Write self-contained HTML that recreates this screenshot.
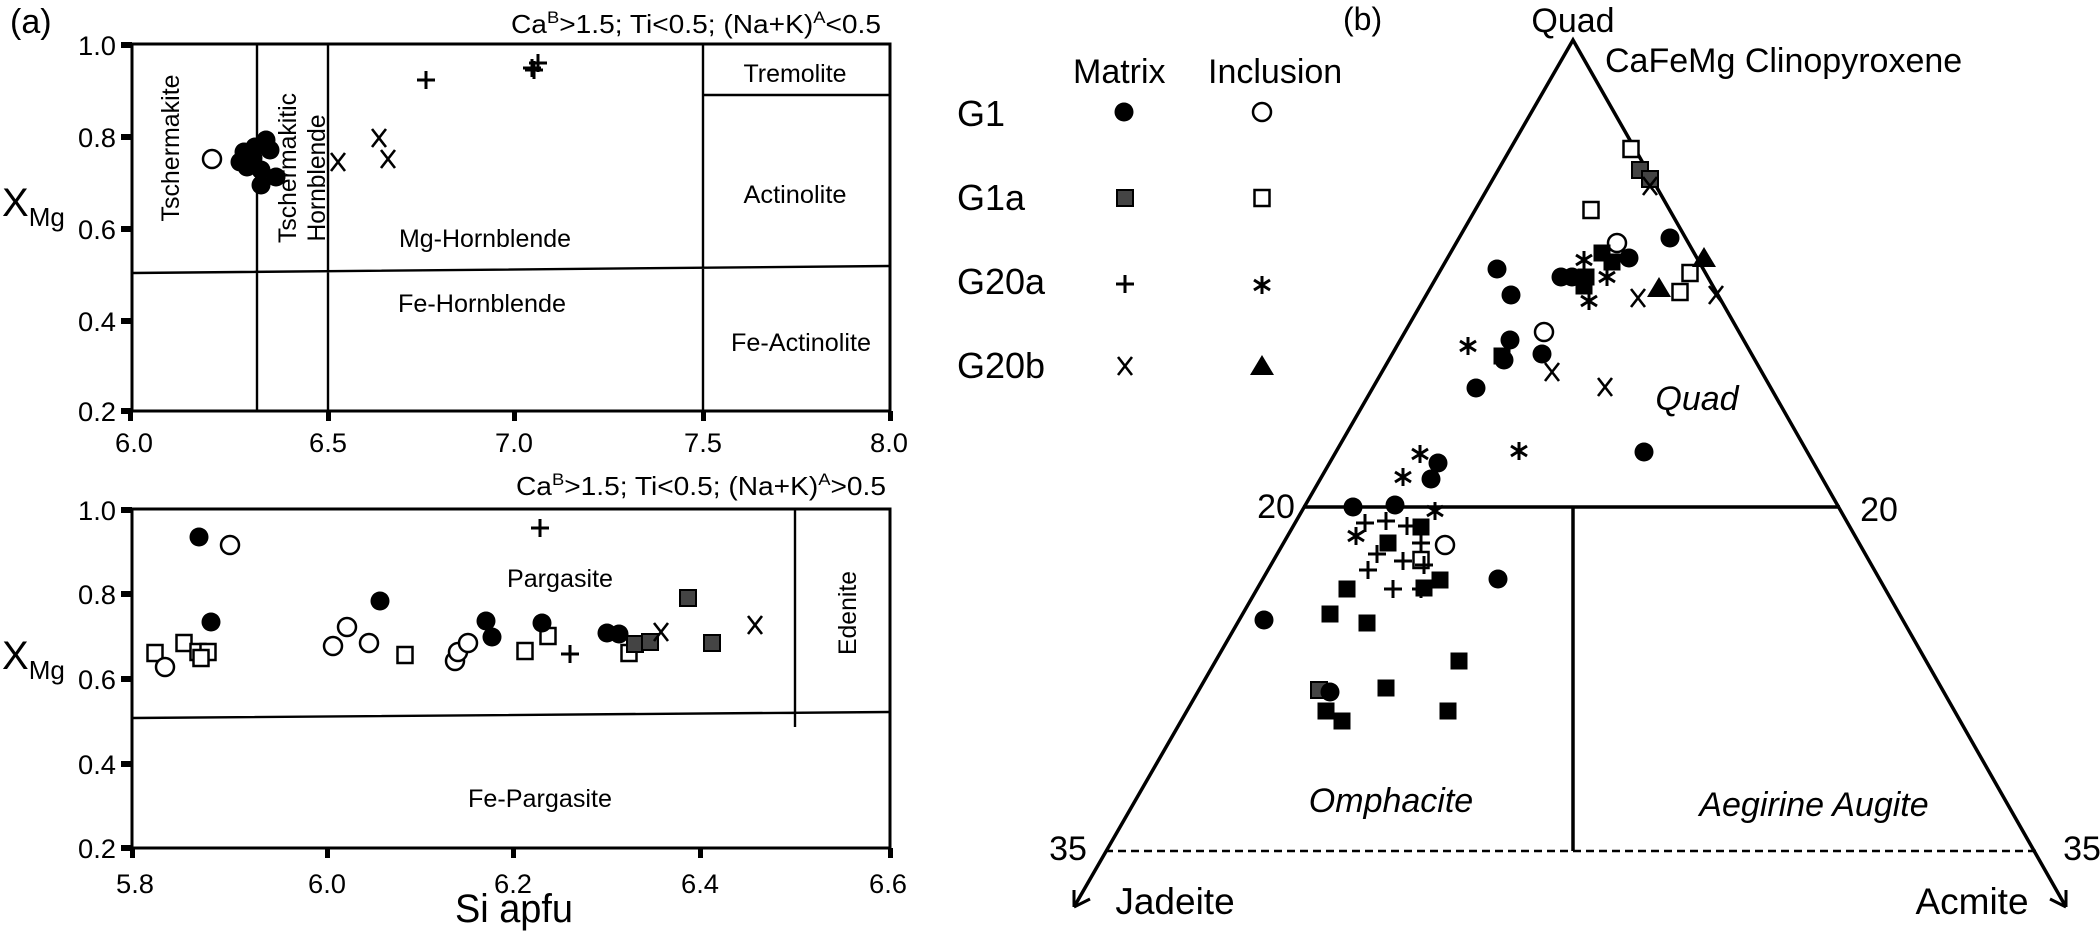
<!DOCTYPE html>
<html><head><meta charset="utf-8"><style>
html,body{margin:0;padding:0;background:#fff;}
svg{display:block;}
text{font-family:"Liberation Sans",Arial,sans-serif;fill:#000;}
</style></head><body>
<svg width="2100" height="934" viewBox="0 0 2100 934" xmlns="http://www.w3.org/2000/svg">
<defs>
<g id="fc"><circle r="9.5" fill="#000"/></g>
<g id="oc"><circle r="9" fill="#fff" stroke="#000" stroke-width="2.5"/></g>
<g id="fs"><rect x="-8.5" y="-8.5" width="17" height="17" fill="#000"/></g>
<g id="gs"><rect x="-8" y="-8" width="16" height="16" fill="#444" stroke="#000" stroke-width="2"/></g>
<g id="os"><rect x="-7.5" y="-8" width="15" height="16" fill="#fff" stroke="#000" stroke-width="2.5"/></g>
<g id="pl"><path d="M-9 0H9M0-9V9" stroke="#000" stroke-width="3" fill="none"/></g>
<g id="xx"><path d="M-7-9L7 9M7-9L-7 9" stroke="#000" stroke-width="2.6" fill="none"/></g>
<g id="as"><path d="M0-9V9M-8-5L8 5M8-5L-8 5" stroke="#000" stroke-width="3" fill="none"/></g>
<g id="tr"><path d="M0-11L12 9H-12Z" fill="#000"/></g>
</defs>

<!-- ========== (a) top plot ========== -->
<text x="10" y="33" font-size="34">(a)</text>
<text x="881" y="33" font-size="26" text-anchor="end" textLength="370" lengthAdjust="spacingAndGlyphs">Ca<tspan dy="-10" font-size="17">B</tspan><tspan dy="10">&gt;1.5; Ti&lt;0.5; (Na+K)</tspan><tspan dy="-10" font-size="17">A</tspan><tspan dy="10">&lt;0.5</tspan></text>
<rect x="132" y="44" width="758" height="367" fill="none" stroke="#000" stroke-width="3"/>
<g stroke="#000" stroke-width="2.4" fill="none">
<path d="M257 44V411M328 44V411M703 44V411M703 95H890M132 273L890 266"/>
</g>
<g fill="#000">
<rect x="121" y="42" width="11" height="6"/><rect x="121" y="134" width="11" height="6"/><rect x="121" y="226" width="11" height="6"/><rect x="121" y="318" width="11" height="6"/><rect x="121" y="408" width="11" height="6"/>
<rect x="128" y="411" width="5" height="10"/><rect x="326" y="411" width="5" height="10"/><rect x="512" y="411" width="5" height="10"/><rect x="701" y="411" width="5" height="10"/><rect x="888" y="411" width="5" height="10"/>
</g>
<g font-size="27" text-anchor="end">
<text x="116" y="55" textLength="38" lengthAdjust="spacingAndGlyphs">1.0</text>
<text x="116" y="147" textLength="38" lengthAdjust="spacingAndGlyphs">0.8</text>
<text x="116" y="239" textLength="38" lengthAdjust="spacingAndGlyphs">0.6</text>
<text x="116" y="331" textLength="38" lengthAdjust="spacingAndGlyphs">0.4</text>
<text x="116" y="421" textLength="38" lengthAdjust="spacingAndGlyphs">0.2</text>
</g>
<g font-size="27" text-anchor="middle">
<text x="134" y="452" textLength="38" lengthAdjust="spacingAndGlyphs">6.0</text><text x="328" y="452" textLength="38" lengthAdjust="spacingAndGlyphs">6.5</text><text x="514" y="452" textLength="38" lengthAdjust="spacingAndGlyphs">7.0</text><text x="703" y="452" textLength="38" lengthAdjust="spacingAndGlyphs">7.5</text><text x="889" y="452" textLength="38" lengthAdjust="spacingAndGlyphs">8.0</text>
</g>
<text x="2" y="216" font-size="40">X<tspan font-size="26" dy="10">Mg</tspan></text>
<g font-size="25" text-anchor="middle">
<text x="795" y="82" textLength="103" lengthAdjust="spacingAndGlyphs">Tremolite</text>
<text x="795" y="203" textLength="103" lengthAdjust="spacingAndGlyphs">Actinolite</text>
<text x="485" y="247" textLength="172" lengthAdjust="spacingAndGlyphs">Mg-Hornblende</text>
<text x="482" y="312" textLength="168" lengthAdjust="spacingAndGlyphs">Fe-Hornblende</text>
<text x="801" y="351" textLength="140" lengthAdjust="spacingAndGlyphs">Fe-Actinolite</text>
<text transform="translate(179,148) rotate(-90)" textLength="147" lengthAdjust="spacingAndGlyphs">Tschermakite</text>
<text transform="translate(296,168) rotate(-90)" textLength="150" lengthAdjust="spacingAndGlyphs">Tschermakitic</text>
<text transform="translate(325,178) rotate(-90)" textLength="127" lengthAdjust="spacingAndGlyphs">Hornblende</text>
</g>
<use href="#oc" x="212" y="159"/>
<use href="#fc" x="244" y="152"/><use href="#fc" x="255" y="147"/><use href="#fc" x="266" y="140"/><use href="#fc" x="270" y="150"/><use href="#fc" x="247" y="167"/><use href="#fc" x="261" y="170"/><use href="#fc" x="276" y="177"/><use href="#fc" x="261" y="185"/><use href="#fc" x="253" y="158"/><use href="#fc" x="240" y="162"/>
<use href="#xx" x="338" y="162"/><use href="#xx" x="379" y="138"/><use href="#xx" x="388" y="159"/>
<use href="#pl" x="426" y="80"/><use href="#pl" x="532" y="68"/><use href="#pl" x="538" y="63"/><use href="#pl" x="534" y="70"/>

<!-- ========== (a) bottom plot ========== -->
<text x="886" y="495" font-size="26" text-anchor="end" textLength="370" lengthAdjust="spacingAndGlyphs">Ca<tspan dy="-10" font-size="17">B</tspan><tspan dy="10">&gt;1.5; Ti&lt;0.5; (Na+K)</tspan><tspan dy="-10" font-size="17">A</tspan><tspan dy="10">&gt;0.5</tspan></text>
<rect x="132" y="509" width="758" height="339" fill="none" stroke="#000" stroke-width="3"/>
<g stroke="#000" stroke-width="2.4" fill="none">
<path d="M795 509V727M132 718L890 712"/>
</g>
<g fill="#000">
<rect x="121" y="507" width="11" height="6"/><rect x="121" y="591" width="11" height="6"/><rect x="121" y="676" width="11" height="6"/><rect x="121" y="761" width="11" height="6"/><rect x="121" y="845" width="11" height="6"/>
<rect x="130" y="848" width="5" height="10"/><rect x="325" y="848" width="5" height="10"/><rect x="511" y="848" width="5" height="10"/><rect x="698" y="848" width="5" height="10"/><rect x="888" y="848" width="5" height="10"/>
</g>
<g font-size="27" text-anchor="end">
<text x="116" y="520" textLength="38" lengthAdjust="spacingAndGlyphs">1.0</text>
<text x="116" y="604" textLength="38" lengthAdjust="spacingAndGlyphs">0.8</text>
<text x="116" y="689" textLength="38" lengthAdjust="spacingAndGlyphs">0.6</text>
<text x="116" y="774" textLength="38" lengthAdjust="spacingAndGlyphs">0.4</text>
<text x="116" y="858" textLength="38" lengthAdjust="spacingAndGlyphs">0.2</text>
</g>
<g font-size="27" text-anchor="middle">
<text x="135" y="893" textLength="38" lengthAdjust="spacingAndGlyphs">5.8</text><text x="327" y="893" textLength="38" lengthAdjust="spacingAndGlyphs">6.0</text><text x="513" y="893" textLength="38" lengthAdjust="spacingAndGlyphs">6.2</text><text x="700" y="893" textLength="38" lengthAdjust="spacingAndGlyphs">6.4</text><text x="888" y="893" textLength="38" lengthAdjust="spacingAndGlyphs">6.6</text>
</g>
<text x="514" y="922" font-size="40" text-anchor="middle" textLength="118" lengthAdjust="spacingAndGlyphs">Si apfu</text>
<text x="2" y="669" font-size="40">X<tspan font-size="26" dy="10">Mg</tspan></text>
<g font-size="25" text-anchor="middle">
<text x="560" y="587" textLength="106" lengthAdjust="spacingAndGlyphs">Pargasite</text>
<text x="540" y="807" textLength="144" lengthAdjust="spacingAndGlyphs">Fe-Pargasite</text>
<text transform="translate(856,613) rotate(-90)" textLength="84" lengthAdjust="spacingAndGlyphs">Edenite</text>
</g>
<use href="#os" x="155" y="653"/><use href="#os" x="184" y="643"/><use href="#os" x="198" y="652"/><use href="#os" x="208" y="652"/><use href="#os" x="201" y="658"/><use href="#os" x="405" y="655"/><use href="#os" x="525" y="651"/><use href="#os" x="548" y="636"/><use href="#os" x="629" y="653"/>
<use href="#oc" x="230" y="545"/><use href="#oc" x="165" y="667"/><use href="#oc" x="333" y="646"/><use href="#oc" x="347" y="627"/><use href="#oc" x="369" y="643"/><use href="#oc" x="455" y="661"/><use href="#oc" x="458" y="652"/><use href="#oc" x="468" y="643"/>
<use href="#fc" x="199" y="537"/><use href="#fc" x="211" y="622"/><use href="#fc" x="380" y="601"/><use href="#fc" x="486" y="621"/><use href="#fc" x="492" y="637"/><use href="#fc" x="542" y="623"/><use href="#fc" x="607" y="633"/><use href="#fc" x="619" y="634"/>
<use href="#gs" x="635" y="644"/><use href="#gs" x="650" y="642"/><use href="#gs" x="688" y="598"/><use href="#gs" x="712" y="643"/>
<use href="#pl" x="540" y="528"/><use href="#pl" x="570" y="654"/>
<use href="#xx" x="661" y="632"/><use href="#xx" x="755" y="625"/>

<!-- ========== (b) ternary ========== -->
<text x="1343" y="30" font-size="32">(b)</text>
<text x="1573" y="32" font-size="34" text-anchor="middle">Quad</text>
<text x="1605" y="72" font-size="34">CaFeMg Clinopyroxene</text>
<text x="1073" y="83" font-size="34">Matrix</text>
<text x="1208" y="83" font-size="34">Inclusion</text>
<g font-size="36">
<text x="957" y="126">G1</text><text x="957" y="210">G1a</text><text x="957" y="294">G20a</text><text x="957" y="378">G20b</text>
</g>
<use href="#fc" x="1124" y="112"/><use href="#oc" x="1262" y="112"/>
<use href="#gs" x="1125" y="198"/><use href="#os" x="1262" y="198"/>
<use href="#pl" x="1125" y="284"/><use href="#as" x="1262" y="285"/>
<use href="#xx" x="1125" y="366"/><use href="#tr" x="1262" y="366"/>

<g stroke="#000" stroke-width="3.5" fill="none">
<path d="M1074 907L1573 40L2066 907"/>
<path d="M1303 507H1840M1573 507V851"/>
<path d="M1105 851H2040" stroke-width="2.5" stroke-dasharray="8,5"/>
<path d="M1074 907L1074 890M1074 907L1090 899" stroke-width="3"/>
<path d="M2066 907L2066 890M2066 907L2050 899" stroke-width="3"/>
</g>
<g font-size="34">
<text x="1276" y="518" text-anchor="middle">20</text>
<text x="1879" y="521" text-anchor="middle">20</text>
<text x="1068" y="860" text-anchor="middle">35</text>
<text x="2082" y="860" text-anchor="middle">35</text>
<text x="1175" y="914" text-anchor="middle" font-size="37">Jadeite</text>
<text x="1972" y="914" text-anchor="middle" font-size="37">Acmite</text>
<text x="1697" y="410" text-anchor="middle" font-style="italic">Quad</text>
<text x="1391" y="812" text-anchor="middle" font-style="italic">Omphacite</text>
<text x="1814" y="816" text-anchor="middle" font-style="italic">Aegirine Augite</text>
</g>
<!-- data -->
<use href="#os" x="1631" y="149"/><use href="#os" x="1591" y="210"/><use href="#os" x="1690" y="273"/><use href="#os" x="1680" y="292"/><use href="#os" x="1421" y="560"/>
<use href="#gs" x="1640" y="170"/><use href="#gs" x="1650" y="179"/><use href="#gs" x="1319" y="690"/>
<use href="#oc" x="1617" y="243"/><use href="#oc" x="1544" y="332"/><use href="#oc" x="1445" y="545"/>
<use href="#fc" x="1497" y="269"/><use href="#fc" x="1511" y="295"/><use href="#fc" x="1510" y="340"/><use href="#fc" x="1504" y="360"/><use href="#fc" x="1476" y="388"/><use href="#fc" x="1542" y="354"/><use href="#fc" x="1561" y="277"/><use href="#fc" x="1572" y="277"/><use href="#fc" x="1629" y="258"/><use href="#fc" x="1670" y="238"/><use href="#fc" x="1644" y="452"/><use href="#fc" x="1438" y="463"/><use href="#fc" x="1431" y="479"/><use href="#fc" x="1353" y="507"/><use href="#fc" x="1395" y="505"/><use href="#fc" x="1498" y="579"/><use href="#fc" x="1264" y="620"/><use href="#fc" x="1330" y="692"/>
<use href="#fs" x="1602" y="253"/><use href="#fs" x="1612" y="262"/><use href="#fs" x="1586" y="277"/><use href="#fs" x="1584" y="286"/><use href="#fs" x="1502" y="356"/><use href="#fs" x="1421" y="527"/><use href="#fs" x="1388" y="543"/><use href="#fs" x="1440" y="580"/><use href="#fs" x="1424" y="588"/><use href="#fs" x="1347" y="589"/><use href="#fs" x="1330" y="614"/><use href="#fs" x="1367" y="623"/><use href="#fs" x="1459" y="661"/><use href="#fs" x="1386" y="688"/><use href="#fs" x="1448" y="711"/><use href="#fs" x="1326" y="711"/><use href="#fs" x="1342" y="721"/>
<use href="#tr" x="1704" y="258"/><use href="#tr" x="1659" y="288"/>
<use href="#xx" x="1650" y="186"/><use href="#xx" x="1638" y="298"/><use href="#xx" x="1716" y="295"/><use href="#xx" x="1552" y="372"/><use href="#xx" x="1605" y="387"/>
<use href="#as" x="1584" y="260"/><use href="#as" x="1607" y="277"/><use href="#as" x="1589" y="301"/><use href="#as" x="1468" y="346"/><use href="#as" x="1519" y="451"/><use href="#as" x="1420" y="454"/><use href="#as" x="1403" y="477"/><use href="#as" x="1435" y="511"/><use href="#as" x="1356" y="536"/>
<use href="#pl" x="1365" y="523"/><use href="#pl" x="1386" y="521"/><use href="#pl" x="1407" y="526"/><use href="#pl" x="1421" y="543"/><use href="#pl" x="1377" y="554"/><use href="#pl" x="1403" y="561"/><use href="#pl" x="1424" y="565"/><use href="#pl" x="1368" y="570"/><use href="#pl" x="1393" y="589"/><use href="#pl" x="1421" y="589"/>
</svg>
</body></html>
